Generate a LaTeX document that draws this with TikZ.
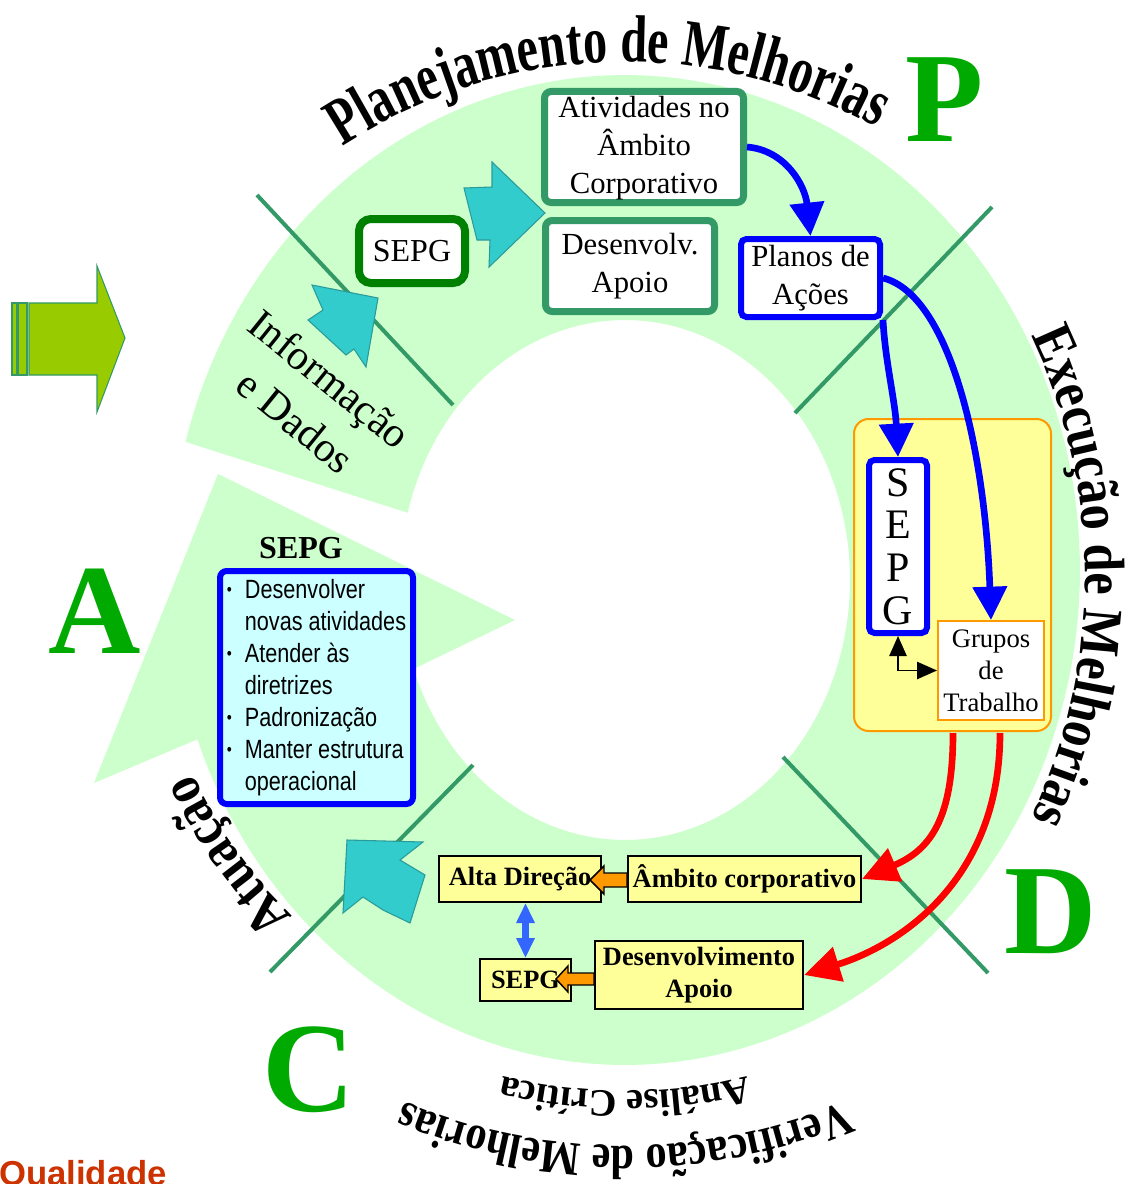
\documentclass[tikz,border=0pt]{standalone}
\usepackage{fontspec}
\setmainfont{Liberation Serif}
\newfontfamily\narrowsans[FakeStretch=0.82]{Liberation Sans}
\newfontfamily\arialfont{Liberation Sans}
\newfontfamily\wordart[FakeStretch=0.72]{Liberation Serif Bold}
\newfontfamily\wordartb[FakeStretch=0.88]{Liberation Serif Bold}
\usetikzlibrary{arrows.meta,decorations.text,calc}

\definecolor{ringgreen}{HTML}{CCFFCC}
\definecolor{divgreen}{HTML}{339966}
\definecolor{darkgreen}{HTML}{008000}
\definecolor{letgreen}{HTML}{00AA00}
\definecolor{cyanarrow}{HTML}{33CCCC}
\definecolor{tealedge}{HTML}{2A9A9A}
\definecolor{limearrow}{HTML}{99CC00}
\definecolor{paleyellow}{HTML}{FFFF99}
\definecolor{orangeedge}{HTML}{FF9900}
\definecolor{palecyan}{HTML}{CCFFFF}
\definecolor{purered}{HTML}{FF0000}
\definecolor{pureblue}{HTML}{0000FF}
\definecolor{lightblue}{HTML}{3366FF}
\definecolor{qualred}{HTML}{CC3300}

\newcommand\smallbullet{\makebox[13.5pt][l]{\fontsize{13}{13}\selectfont\raisebox{2pt}{•}}}

\tikzset{
 gbox/.style={draw=divgreen, line width=5.25pt, fill=white, rounded corners=5pt, inner sep=0pt, align=center, font=\fontsize{23}{28.5}\selectfont},
 sepgone/.style={draw=darkgreen, line width=6pt, fill=white, rounded corners=9pt, inner sep=0pt, minimum width=79.5pt, minimum height=48pt, font=\fontsize{24}{28}\selectfont},
 bluebox/.style={draw=pureblue, line width=4.5pt, fill=white, rounded corners=4pt, inner sep=0pt, align=center},
 yellowpanel/.style={draw=orangeedge, line width=1.5pt, fill=paleyellow, rounded corners=11pt, minimum width=147.75pt, minimum height=234pt, inner sep=0pt},
 grupobox/.style={draw=orangeedge, line width=1.5pt, fill=white, inner sep=0pt, align=center, minimum width=79.5pt, minimum height=74.25pt, font=\fontsize{20}{24}\selectfont},
 bulletbox/.style={draw=pureblue, line width=4.5pt, fill=palecyan, rounded corners=5pt, inner sep=0pt, minimum width=144.75pt, minimum height=174.75pt, align=left, font=\narrowsans\fontsize{19.8}{24}\selectfont},
 yellowbox/.style={draw=black, line width=1.5pt, fill=paleyellow, inner sep=0pt, align=center, minimum height=34.5pt, font=\bfseries\fontsize{19.8}{24}\selectfont},
 bigletter/.style={text=letgreen, inner sep=0pt, font=\bfseries\fontsize{96}{96}\selectfont},
 divline/.style={draw=divgreen, line width=3pt},
 cyanblock/.style={fill=cyanarrow, draw=tealedge, line width=0.8pt},
 limeblock/.style={fill=limearrow, draw=divgreen, line width=0.8pt},
 orangeblock/.style={fill=orangeedge, draw=black, line width=1.1pt},
 bluearrow/.style={draw=pureblue, line width=5pt, -{Triangle[length=25pt,width=25pt]}},
 redarrow/.style={draw=purered, line width=5pt, -{Triangle[length=27pt,width=26pt]}},
 dblarrow/.style={draw=lightblue, line width=5pt, {Triangle[length=15pt,width=13pt]}-{Triangle[length=15pt,width=13pt]}},
 smallconn/.style={draw=black, line width=1.1pt, {Triangle[length=15pt,width=13pt]}-{Triangle[length=15pt,width=13pt]}},
}

\begin{document}
\begin{tikzpicture}[x=0.75pt,y=-0.75pt]
\useasboundingbox (0,0) rectangle (1130,1184);
\fill[white] (0,0) rectangle (1130,1184);

% ring arrow
\fill[ringgreen] plot[domain=-160:165, samples=180] ({625+455*cos(\x)},{570-495*sin(\x)})
  -- plot[domain=-160:165, samples=180] ({625+225*cos(5-\x)},{580-260*sin(5-\x)})
  -- (515,620) -- (218,474) -- (94,783) -- cycle;

% dividing lines
\draw[divline] (257,195) -- (453,405);
\draw[divline] (992,207) -- (795,413);
\draw[divline] (783,757) -- (988,973);
\draw[divline] (473,765) -- (270,972);

% lime input arrow
\filldraw[limeblock] (12,303) rectangle (17,375);
\filldraw[limeblock] (18,303) rectangle (27,375);
\filldraw[limeblock] (29,303) -- (97,303) -- (97,266) -- (125,338) -- (97,412) -- (97,375) -- (29,375) -- cycle;

% curved labels
\path[decorate, decoration={text along path, text align=center,
  text={|\wordart\fontsize{50}{50}\selectfont|Planejamento de Melhorias}}]
  plot[domain=0:1, samples=160] ({625+515*cos(134-84*\x)},{577-515*sin(134-84*\x)});
\path[decorate, decoration={text along path, text align=center,
  text={|\wordartb\fontsize{43}{43}\selectfont|Execução de Melhorias}}]
  plot[domain=0:1, samples=160] ({625+460*cos(40-80*\x)},{577-515*sin(40-80*\x)});
\path[decorate, decoration={text along path, text align=center,
  text={|\wordartb\fontsize{36}{36}\selectfont|Verificação de Melhorias}}]
  plot[domain=0:1, samples=160] ({625+569*cos(-55-70*\x)},{577-569*sin(-55-70*\x)});
\path[decorate, decoration={text along path, text align=center,
  text={|\bfseries\fontsize{29}{29}\selectfont|Análise Crítica}}]
  plot[domain=0:1, samples=160] ({625+514*cos(-60-60*\x)},{577-514*sin(-60-60*\x)});
\path[decorate, decoration={text along path, text align=center,
  text={|\wordartb\fontsize{42}{42}\selectfont|Atuação}}]
  plot[domain=0:1, samples=160] ({625+475*cos(-125-40*\x)},{577-475*sin(-125-40*\x)});

\node[rotate=-39, align=center, inner sep=0pt, font=\fontsize{31.5}{41}\selectfont] (info) at (313,400) {Informação\\e Dados};

% cyan block arrows
\filldraw[cyanblock] (378,298) -- (312,285) -- (323,310) -- (308,320) -- (346,355) -- (354,349) -- (366,367) -- cycle;
\filldraw[cyanblock] (492,162) -- (545,213) -- (489,267) -- (490,240) -- (477,240) -- (464,188) -- (492,187) -- cycle;
\filldraw[cyanblock] (347,840) -- (423,842) -- (400,860) -- (425,875) -- (410,923) -- (383,910) -- (363,897) -- (343,913) -- cycle;

% big letters
\node[bigletter] (P) at (945,100) {P};
\node[bigletter] (A) at (95,611) {A};
\node[bigletter] (D) at (1051,912) {D};
\node[bigletter] (C) at (309,1070) {C};

% planning boxes
\node[sepgone] (sepg1) at (412,251) {SEPG};
\node[gbox, minimum width=149.25pt, minimum height=83.25pt, text depth=3pt] (ativ) at (644,147) {Atividades no\\Âmbito\\Corporativo};
\node[gbox, minimum width=126.75pt, minimum height=68.25pt] (desv) at (630,266) {Desenvolv.\\Apoio};
\node[bluebox, minimum width=104.25pt, minimum height=58.5pt, font=\fontsize{23}{28.5}\selectfont] (planos) at (810.5,278) {Planos de\\Ações};

% execution panel
\node[yellowpanel] (yel) at (952.5,575) {};
\node[bluebox, minimum width=43.5pt, minimum height=129.75pt, font=\fontsize{31.5}{32}\selectfont] (sepgv) at (898,546.5) {S\\E\\P\\G};
\node[grupobox] (grupos) at (991,670.5) {Grupos\\de\\Trabalho};
\draw[smallconn] (sepgv.south) |- (grupos.west);

% action box
\node[font=\bfseries\fontsize{24}{28}\selectfont, inner sep=0pt] (sepgtitle) at (301,548) {SEPG};
\node[bulletbox] (bl) at (316.5,687.5) {\smallbullet Desenvolver\\
\hspace*{13.5pt}novas atividades\\
\smallbullet Atender às\\
\hspace*{13.5pt}diretrizes\\
\smallbullet Padronização\\
\smallbullet Manter estrutura\\
\hspace*{13.5pt}operacional};

% check boxes
\node[yellowbox, minimum width=121.5pt] (alta) at (520,879) {Alta Direção};
\node[yellowbox, minimum width=174.75pt] (ambito) at (744.5,879) {Âmbito corporativo};
\node[yellowbox, minimum width=68.25pt, minimum height=31.5pt] (sepgb) at (525.5,980) {SEPG};
\node[yellowbox, minimum width=156pt, minimum height=51pt] (desenv) at (699,975) {Desenvolvimento\\Apoio};
\filldraw[orangeblock] (627,873) -- (604,873) -- (604,866) -- (590,880) -- (604,894) -- (604,887) -- (627,887) -- cycle;
\filldraw[orangeblock] (594,973) -- (568,973) -- (568,966) -- (556,979) -- (568,992) -- (568,985) -- (594,985) -- cycle;
\draw[dblarrow] (alta.south -| sepgb.north) -- (sepgb.north);

% connectors
\draw[bluearrow] (ativ.east) .. controls (785,150) and (805,185) .. (planos.north);
\draw[bluearrow] (planos.east) .. controls (950,295) and (985,450) .. (grupos.north);
\draw[bluearrow] (planos.south east) .. controls (885,360) and (895,400) .. (sepgv.north);
\coordinate (r1) at (953,733);
\coordinate (r2) at (1000,733);
\draw[redarrow] (r1) .. controls (953,820) and (930,850) .. (ambito.east);
\draw[redarrow] (r2) .. controls (1000,880) and (900,945) .. (desenv.east);

\node[anchor=base west, inner sep=0pt, text=qualred, font=\arialfont\bfseries\fontsize{26}{26}\selectfont] (qual) at (-1,1185) {Qualidade};
\end{tikzpicture}
\end{document}
